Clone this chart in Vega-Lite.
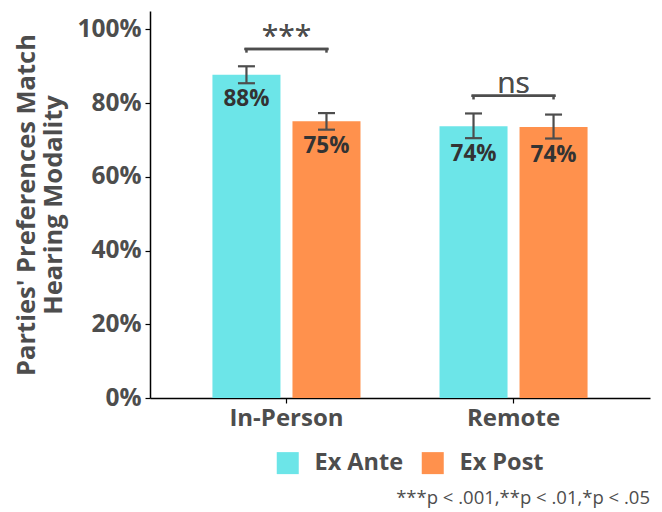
{
  "$schema": "https://vega.github.io/schema/vega-lite/v6.json",
  "width": 500,
  "height": 387,
  "autosize": {"type": "none"},
  "padding": {"left": 150, "top": 11, "right": 12, "bottom": 114},
  "background": "white",
  "title": {
    "text": "***p < .001,**p < .01,*p < .05",
    "orient": "bottom",
    "anchor": "end",
    "frame": "group",
    "font": "Open Sans",
    "fontSize": 18.5,
    "fontWeight": "normal",
    "color": "#4d4d4d",
    "offset": 14
  },
  "datasets": {
    "bars": [
      {"modality": "In-Person", "timing": "Ex Ante", "value": 0.877, "lo": 0.854, "hi": 0.900, "label": "88%"},
      {"modality": "In-Person", "timing": "Ex Post", "value": 0.751, "lo": 0.728, "hi": 0.773, "label": "75%"},
      {"modality": "Remote", "timing": "Ex Ante", "value": 0.737, "lo": 0.705, "hi": 0.772, "label": "74%"},
      {"modality": "Remote", "timing": "Ex Post", "value": 0.735, "lo": 0.704, "hi": 0.769, "label": "74%"}
    ],
    "brackets": [
      {"modality": "In-Person", "timing": "Ex Ante", "y": 0.947, "hook": 0.937, "sig": "***"},
      {"modality": "In-Person", "timing": "Ex Post", "y": 0.947, "hook": 0.937, "sig": "***"},
      {"modality": "Remote", "timing": "Ex Ante", "y": 0.82, "hook": 0.81, "sig": "ns"},
      {"modality": "Remote", "timing": "Ex Post", "y": 0.82, "hook": 0.81, "sig": "ns"}
    ]
  },
  "encoding": {
    "x": {
      "field": "modality",
      "type": "nominal",
      "scale": {"paddingInner": 0.348, "paddingOuter": 0.275},
      "axis": {
        "title": null,
        "labelAngle": 0,
        "labelFont": "Open Sans",
        "labelFontSize": 24,
        "labelFontWeight": "bold",
        "labelColor": "#4d4d4d",
        "labelPadding": 3,
        "domainColor": "black",
        "domainWidth": 1.5,
        "tickColor": "black",
        "tickSize": 5,
        "tickWidth": 1.2
      }
    },
    "xOffset": {
      "field": "timing",
      "type": "nominal",
      "scale": {"paddingInner": 0.15, "paddingOuter": 0}
    }
  },
  "layer": [
    {
      "data": {"name": "bars"},
      "mark": {"type": "bar"},
      "encoding": {
        "y": {
          "field": "value",
          "type": "quantitative",
          "scale": {"domain": [0, 1.05], "nice": false},
          "axis": {
            "values": [0, 0.2, 0.4, 0.6, 0.8, 1],
            "format": ".0%",
            "grid": false,
            "title": ["Parties' Preferences Match", "Hearing Modality"],
            "titleFont": "Open Sans",
            "titleFontSize": 25.5,
            "titleFontWeight": "bold",
            "titleColor": "#4d4d4d",
            "titleLineHeight": 27,
            "titlePadding": 10,
            "labelFont": "Open Sans",
            "labelFontSize": 24.5,
            "labelFontWeight": "bold",
            "labelColor": "#4d4d4d",
            "labelPadding": 4,
            "domainColor": "black",
            "domainWidth": 1.5,
            "tickColor": "black",
            "tickSize": 5,
            "tickWidth": 1.2
          }
        },
        "color": {
          "field": "timing",
          "type": "nominal",
          "scale": {"domain": ["Ex Ante", "Ex Post"], "range": ["#6ce5e8", "#ff914d"]},
          "legend": {
            "title": null,
            "orient": "none",
            "legendX": 126,
            "legendY": 440,
            "direction": "horizontal",
            "symbolType": "square",
            "symbolSize": 484,
            "symbolStrokeWidth": 0,
            "symbolOpacity": 1,
            "labelFont": "Open Sans",
            "labelFontSize": 23.5,
            "labelFontWeight": "bold",
            "labelColor": "#4d4d4d",
            "labelOffset": 15,
            "columnPadding": 17
          }
        }
      }
    },
    {
      "data": {"name": "bars"},
      "mark": {"type": "rule", "color": "#4d4d4d", "strokeWidth": 2.2},
      "encoding": {
        "y": {"field": "lo", "type": "quantitative"},
        "y2": {"field": "hi"}
      }
    },
    {
      "data": {"name": "bars"},
      "mark": {"type": "tick", "orient": "horizontal", "color": "#4d4d4d", "size": 17, "thickness": 2.2, "opacity": 1},
      "encoding": {"y": {"field": "hi", "type": "quantitative"}}
    },
    {
      "data": {"name": "bars"},
      "mark": {"type": "tick", "orient": "horizontal", "color": "#4d4d4d", "size": 17, "thickness": 2.2, "opacity": 1},
      "encoding": {"y": {"field": "lo", "type": "quantitative"}}
    },
    {
      "data": {"name": "bars"},
      "mark": {"type": "text", "baseline": "top", "dy": 5, "font": "Open Sans", "fontSize": 22.5, "fontWeight": "bold", "color": "#333333"},
      "encoding": {
        "y": {"field": "lo", "type": "quantitative"},
        "text": {"field": "label"}
      }
    },
    {
      "data": {"name": "brackets"},
      "mark": {"type": "tick", "orient": "horizontal", "color": "#4d4d4d", "size": 84, "thickness": 2.5, "opacity": 1},
      "encoding": {
        "x": {"field": "modality", "type": "nominal"},
        "xOffset": null,
        "y": {"field": "y", "type": "quantitative"}
      }
    },
    {
      "data": {"name": "brackets"},
      "mark": {"type": "rule", "color": "#4d4d4d", "strokeWidth": 2.5},
      "encoding": {
        "y": {"field": "y", "type": "quantitative"},
        "y2": {"field": "hook"}
      }
    },
    {
      "data": {"name": "brackets"},
      "mark": {"type": "text", "baseline": "alphabetic", "dy": -3, "font": "Open Sans", "fontSize": 30, "fontWeight": "normal", "color": "#4d4d4d"},
      "encoding": {
        "x": {"field": "modality", "type": "nominal"},
        "xOffset": null,
        "y": {"field": "y", "type": "quantitative"},
        "text": {"field": "sig"}
      }
    }
  ],
  "config": {
    "view": {"stroke": null}
  }
}
